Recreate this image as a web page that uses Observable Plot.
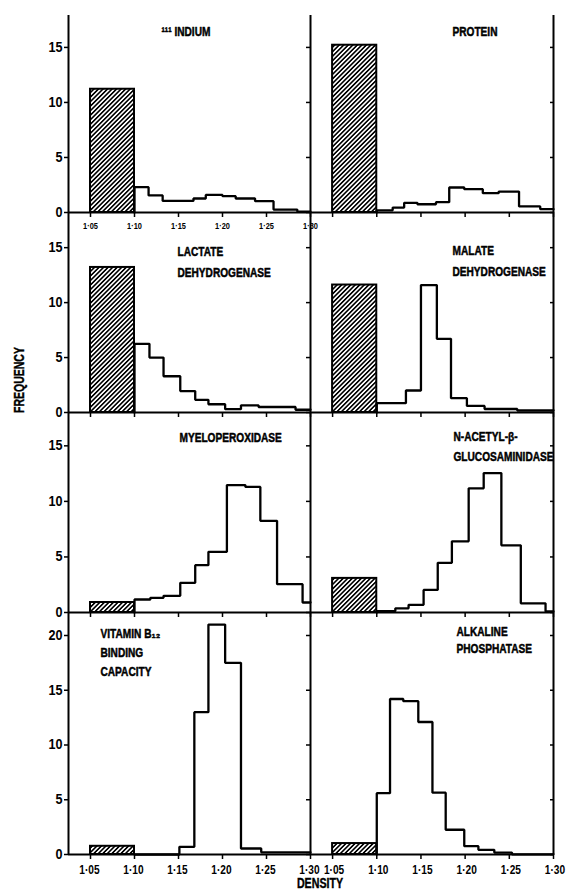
<!DOCTYPE html>
<html>
<head>
<meta charset="utf-8">
<script src="https://cdn.jsdelivr.net/npm/d3@7"></script>
<script src="https://cdn.jsdelivr.net/npm/@observablehq/plot@0.6"></script>
<style>
  body { margin: 0; background: #fff; }
  #chart { position: relative; width: 568px; height: 895px; overflow: hidden; background: #fff;
    font-family: "Liberation Sans", Arial, sans-serif; font-weight: bold; color: #000; }
  .lbl { position: absolute; font-size: 14px; font-weight: bold; white-space: nowrap; -webkit-text-stroke: 0.4px #000; }
</style>
</head>
<body>
<div id="chart">
  <svg width="0" height="0" style="position:absolute">
    <defs>
      <pattern id="hatch" patternUnits="userSpaceOnUse" width="3.2" height="3.2" patternTransform="rotate(45)">
        <rect width="3.2" height="3.2" fill="#fff"></rect>
        <line x1="0.8" y1="0" x2="0.8" y2="3.2" stroke="#000" stroke-width="1.6"></line>
      </pattern>
    </defs>
  </svg>
  <div class="lbl" style="left:19px;top:380px;transform:translate(-50%,-50%) rotate(-90deg) scaleX(0.75);">FREQUENCY</div>
  <div class="lbl" style="left:320px;top:883px;transform:translate(-50%,-50%) scaleX(0.76);">DENSITY</div>
</div>
<script>
// ---------- data ----------
const xTicks = [1.05, 1.10, 1.15, 1.20, 1.25, 1.30];
const yTicks = [0, 5, 10, 15];
const yTicksBottom = [0, 5, 10, 15, 20];
const densityDomain = [1.025, 1.30];
const topFractionBin = [1.05, 1.10];   // hatched bar range

const titles = ["¹¹¹ INDIUM", "PROTEIN", "LACTATE\nDEHYDROGENASE", "MALATE\nDEHYDROGENASE",
  "MYELOPEROXIDASE", "N-ACETYL-β-\nGLUCOSAMINIDASE", "VITAMIN B₁₂\nBINDING\nCAPACITY", "ALKALINE\nPHOSPHATASE"];

const topFraction = [11.2, 15.2, 13.2, 11.6, 0.9, 3.07, 0.75, 1.0];

const indiumEdges = [1.10, 1.116, 1.132, 1.167, 1.181, 1.200, 1.215, 1.237, 1.258, 1.285, 1.30];
const indiumFreq  = [2.3, 1.55, 1.05, 1.27, 1.6, 1.48, 1.27, 1.03, 0.27, 0.08];

const proteinEdges = [1.10, 1.118, 1.131, 1.146, 1.167, 1.182, 1.199, 1.220, 1.238, 1.261, 1.285, 1.30];
const proteinFreq  = [0.2, 0.45, 0.88, 0.75, 0.94, 2.27, 2.12, 1.76, 1.9, 0.55, 0.3];

const ldhEdges = [1.10, 1.117, 1.133, 1.152, 1.169, 1.184, 1.203, 1.221, 1.241, 1.283, 1.30];
const ldhFreq  = [6.25, 5.0, 3.3, 1.95, 1.15, 0.75, 0.3, 0.65, 0.5, 0.25];

const mdhEdges = [1.10, 1.133, 1.150, 1.168, 1.184, 1.202, 1.222, 1.259, 1.30];
const mdhFreq  = [0.85, 2.0, 11.6, 6.7, 1.3, 0.6, 0.32, 0.18];

const mpoEdges = [1.10, 1.118, 1.133, 1.152, 1.169, 1.184, 1.205, 1.226, 1.243, 1.262, 1.291, 1.30];
const mpoFreq  = [1.17, 1.32, 1.5, 2.67, 4.26, 5.46, 11.47, 11.3, 8.25, 2.55, 0.9];

const nagEdges = [1.10, 1.121, 1.136, 1.153, 1.169, 1.185, 1.204, 1.221, 1.241, 1.263, 1.291, 1.30];
const nagFreq  = [0.12, 0.38, 0.69, 2.03, 4.47, 6.41, 11.18, 12.55, 6.05, 0.83, 0.1];

const b12Edges = [1.10, 1.151, 1.168, 1.184, 1.203, 1.221, 1.244, 1.30];
const b12Freq  = [0, 0.7, 13.0, 21.0, 17.5, 0.55, 0.2];

const alpEdges = [1.10, 1.115, 1.130, 1.147, 1.163, 1.178, 1.199, 1.215, 1.233, 1.253, 1.30];
const alpFreq  = [5.6, 14.2, 14.0, 12.1, 5.65, 2.26, 0.76, 0.43, 0.18, 0.02];

const seriesEdges = [indiumEdges, proteinEdges, ldhEdges, mdhEdges, mpoEdges, nagEdges, b12Edges, alpEdges];
const seriesFreq  = [indiumFreq, proteinFreq, ldhFreq, mdhFreq, mpoFreq, nagFreq, b12Freq, alpFreq];

// ---------- layout ----------
const FONT = '"Liberation Sans", Arial, sans-serif';
const cols = [{x0: 68, x1: 310}, {x0: 310, x1: 553}];
const rows = [
  {y0: 15, yb: 212, ymax: 17.9, ticks: yTicks},
  {y0: 212, yb: 412, ymax: 18.2, ticks: yTicks},
  {y0: 412, yb: 612, ymax: 18.0, ticks: yTicks},
  {y0: 612, yb: 854, ymax: 22.1, ticks: yTicksBottom}
];
const titlePos = [
  {dx: 93, dy: 6, lh: 1.5}, {dx: 142, dy: 6, lh: 1.5},
  {dx: 109, dy: 29, lh: 1.55}, {dx: 142, dy: 28, lh: 1.55},
  {dx: 111, dy: 15, lh: 1.5}, {dx: 143, dy: 14, lh: 1.48},
  {dx: 32, dy: 12, lh: 1.41}, {dx: 146, dy: 11, lh: 1.26}
];

const fmt = d => d.toFixed(2).replace(".", "·");
const chart = document.getElementById("chart");

// horizontally condense text (narrow typeface look) around each text's anchor
function condense(svg, selector, factor, shift = 0) {
  svg.querySelectorAll(selector).forEach(t => {
    const tr = t.getAttribute("transform") || "";
    t.setAttribute("transform", `${tr} translate(${shift},0) scale(${factor},1)`);
  });
}

for (let i = 0; i < 8; i++) {
  const rowIdx = Math.floor(i / 2), colIdx = i % 2;
  const col = cols[colIdx], row = rows[rowIdx];
  const mL = 40, mR = 15, mT = 6, mB = 30;
  const w = col.x1 - col.x0, h = row.yb - row.y0;

  const edges = seriesEdges[i], freq = seriesFreq[i];
  const steps = [{x: edges[0], y: 0}].concat(edges.map((x, k) => ({x, y: freq[Math.min(k, freq.length - 1)]})));
  const hatchData = [{x1: topFractionBin[0], x2: topFractionBin[1], y: topFraction[i]}];

  let xLabel = () => "";
  let xFont = 9.5, xPad = 3, xDx = 0;
  if (rowIdx === 0 && colIdx === 0) { xLabel = fmt; xFont = 9.5; xPad = 5; }
  if (rowIdx === 3) { xLabel = fmt; xFont = 13; xPad = 5; xDx = colIdx === 1 ? 1.5 : -1; }

  const marks = [
    Plot.rect(hatchData, {x1: "x1", x2: "x2", y1: 0, y2: "y", fill: "url(#hatch)", stroke: "#000", strokeWidth: 2}),
    Plot.line(steps, {x: "x", y: "y", curve: "step-after", stroke: "#000", strokeWidth: 2.3, strokeLinejoin: "miter"}),
    Plot.ruleY([0], {stroke: "#000", strokeWidth: 2}),
    Plot.ruleX([densityDomain[0]], {stroke: "#000", strokeWidth: 2}),
    Plot.axisX({ticks: xTicks, tickSize: 5, tickPadding: xPad, strokeWidth: 1.5, fontSize: xFont, fontWeight: "bold", tickFormat: xLabel, label: null}),
    Plot.text([titles[i]], {frameAnchor: "top-left", textAnchor: "start", lineAnchor: "top",
      dx: titlePos[i].dx, dy: titlePos[i].dy, lineHeight: titlePos[i].lh, fontSize: 13.5, fontWeight: "bold",
      fill: "#000", stroke: "#000", strokeWidth: 0.5})
  ];
  if (colIdx === 0) {
    marks.push(Plot.axisY({ticks: row.ticks, tickSize: 4, tickPadding: 2, strokeWidth: 1.5, fontSize: 14, fontWeight: "bold", label: null}));
  } else {
    marks.push(Plot.axisY({ticks: row.ticks, tickSize: 4, strokeWidth: 1.5, tickFormat: () => "", label: null}));
    marks.push(Plot.axisY({anchor: "right", ticks: row.ticks, tickSize: 4, dx: -4, strokeWidth: 1.5, tickFormat: () => "", label: null}));
    marks.push(Plot.ruleX([densityDomain[1]], {stroke: "#000", strokeWidth: 2}));
  }

  const svg = Plot.plot({
    width: w + mL + mR, height: h + mT + mB,
    marginLeft: mL, marginRight: mR, marginTop: mT, marginBottom: mB,
    style: {background: "transparent", overflow: "visible", fontFamily: FONT, fontWeight: "bold", color: "#000"},
    x: {domain: densityDomain},
    y: {domain: [0, row.ymax]},
    marks
  });
  svg.style.position = "absolute";
  svg.style.left = (col.x0 - mL) + "px";
  svg.style.top = (row.y0 - mT) + "px";
  svg.style.maxWidth = "none";
  chart.appendChild(svg);

  condense(svg, 'g[aria-label="text"] text', 0.75);
  condense(svg, 'g[aria-label="x-axis tick label"] text', 0.78, xDx);
  condense(svg, 'g[aria-label="y-axis tick label"] text', 0.9);
}
</script>
</body>
</html>
